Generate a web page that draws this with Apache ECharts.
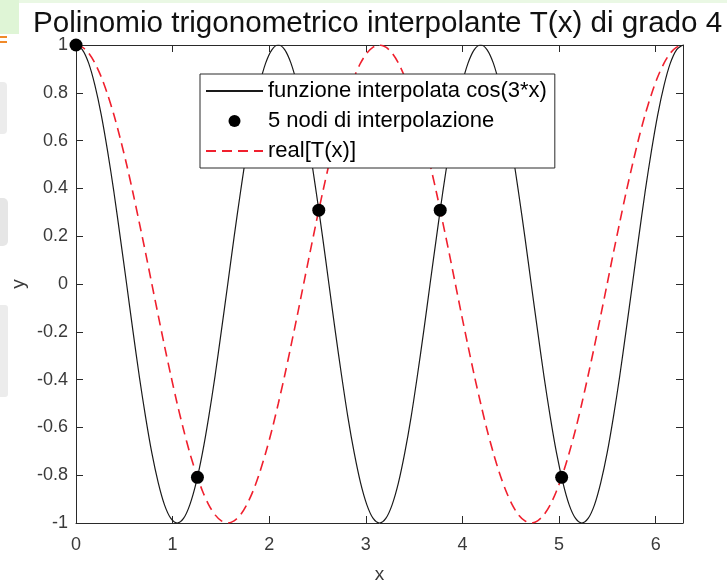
<!DOCTYPE html>
<html>
<head>
<meta charset="utf-8">
<script src="https://cdn.jsdelivr.net/npm/echarts@6/dist/echarts.min.js"></script>
<style>
  html, body { margin: 0; padding: 0; background: #fff; }
  #chart { width: 727px; height: 581px; }
</style>
</head>
<body>
<div id="chart"></div>
<script>
// Sample abscissae on [0, 2*pi], step pi/48
const xs = [0,0.065,0.131,0.196,0.262,0.327,0.393,0.458,0.524,0.589,0.654,0.720,0.785,0.851,0.916,0.982,
  1.047,1.113,1.178,1.244,1.309,1.374,1.440,1.505,1.571,1.636,1.702,1.767,1.833,1.898,1.963,2.029,
  2.094,2.160,2.225,2.291,2.356,2.422,2.487,2.553,2.618,2.683,2.749,2.814,2.880,2.945,3.011,3.076,
  3.142,3.207,3.272,3.338,3.403,3.469,3.534,3.600,3.665,3.731,3.796,3.862,3.927,3.992,4.058,4.123,
  4.189,4.254,4.320,4.385,4.451,4.516,4.581,4.647,4.712,4.778,4.843,4.909,4.974,5.040,5.105,5.171,
  5.236,5.301,5.367,5.432,5.498,5.563,5.629,5.694,5.760,5.825,5.890,5.956,6.021,6.087,6.152,6.218,6.283];

// Interpolated function cos(3*x) at the sample abscissae
const fVals = [
  1,0.981,0.924,0.831,0.707,0.556,0.383,0.195,0,-0.195,-0.383,-0.556,-0.707,-0.831,-0.924,-0.981,
  -1,-0.981,-0.924,-0.831,-0.707,-0.556,-0.383,-0.195,0,0.195,0.383,0.556,0.707,0.831,0.924,0.981,
  1,0.981,0.924,0.831,0.707,0.556,0.383,0.195,0,-0.195,-0.383,-0.556,-0.707,-0.831,-0.924,-0.981,
  -1,-0.981,-0.924,-0.831,-0.707,-0.556,-0.383,-0.195,0,0.195,0.383,0.556,0.707,0.831,0.924,0.981,
  1,0.981,0.924,0.831,0.707,0.556,0.383,0.195,0,-0.195,-0.383,-0.556,-0.707,-0.831,-0.924,-0.981,
  -1,-0.981,-0.924,-0.831,-0.707,-0.556,-0.383,-0.195,0,0.195,0.383,0.556,0.707,0.831,0.924,0.981,
  1];

// Real part of the trigonometric interpolant T(x)
const tVals = [
  1,0.991,0.966,0.924,0.866,0.793,0.707,0.609,0.5,0.383,0.259,0.131,0,-0.131,-0.259,-0.383,
  -0.5,-0.609,-0.707,-0.793,-0.866,-0.924,-0.966,-0.991,-1,-0.991,-0.966,-0.924,-0.866,-0.793,-0.707,-0.609,
  -0.5,-0.383,-0.259,-0.131,0,0.131,0.259,0.383,0.5,0.609,0.707,0.793,0.866,0.924,0.966,0.991,
  1,0.991,0.966,0.924,0.866,0.793,0.707,0.609,0.5,0.383,0.259,0.131,0,-0.131,-0.259,-0.383,
  -0.5,-0.609,-0.707,-0.793,-0.866,-0.924,-0.966,-0.991,-1,-0.991,-0.966,-0.924,-0.866,-0.793,-0.707,-0.609,
  -0.5,-0.383,-0.259,-0.131,0,0.131,0.259,0.383,0.5,0.609,0.707,0.793,0.866,0.924,0.966,0.991,
  1];

// Interpolation nodes
const nodeX = [0, 1.257, 2.513, 3.770, 5.027];
const nodeY = [1, -0.809, 0.309, 0.309, -0.809];

const xTicks = [0, 1, 2, 3, 4, 5, 6];
const xMax = 6.2832;

const names = ['funzione interpolata cos(3*x)', '5 nodi di interpolazione', 'real[T(x)]'];

const zip = (a, b) => a.map((v, i) => [v, b[i]]);

const axisColor = '#2a2a2a';
const labelColor = '#3a3a3a';
const font = 'Liberation Sans, Arial, sans-serif';

const chart = echarts.init(document.getElementById('chart'), null, { renderer: 'canvas' });

chart.setOption({
  animation: false,
  backgroundColor: '#fff',
  title: {
    text: 'Polinomio trigonometrico interpolante T(x) di grado 4',
    left: 33, top: 9, padding: 0,
    textStyle: { fontFamily: font, fontSize: 29.6, fontWeight: 'normal', color: '#111' }
  },
  // faint page decorations along the left edge
  graphic: [
    { type: 'rect', shape: { x: 0, y: 0, width: 727, height: 3 }, style: { fill: '#eaf8e4' }, silent: true },
    { type: 'rect', shape: { x: 0, y: 0, width: 19, height: 34 }, style: { fill: '#dff5d6' }, silent: true },
    { type: 'rect', shape: { x: 0, y: 36, width: 7, height: 2 }, style: { fill: '#f08a2a' }, silent: true },
    { type: 'rect', shape: { x: 0, y: 41, width: 7, height: 2 }, style: { fill: '#f08a2a' }, silent: true },
    { type: 'rect', shape: { x: 0, y: 82, width: 7, height: 52, r: [0, 4, 4, 0] }, style: { fill: '#ececec' }, silent: true },
    { type: 'rect', shape: { x: 0, y: 198, width: 8, height: 48, r: [0, 5, 5, 0] }, style: { fill: '#e6e6e6' }, silent: true },
    { type: 'rect', shape: { x: 0, y: 305, width: 8, height: 92, r: [0, 3, 3, 0] }, style: { fill: '#ececec' }, silent: true }
  ],
  legend: {
    orient: 'vertical',
    left: 200, top: 74,
    data: [
      { name: names[0], itemStyle: { opacity: 0 } },
      { name: names[1], icon: 'circle' },
      { name: names[2], itemStyle: { opacity: 0 } }
    ],
    itemWidth: 57, itemHeight: 12, itemGap: 8,
    padding: [6, 8, 6, 5],
    borderColor: axisColor, borderWidth: 1,
    backgroundColor: '#fff',
    textStyle: { fontFamily: font, fontSize: 22, color: '#000', lineHeight: 22 }
  },
  grid: { left: 76, right: 44, top: 45, bottom: 58, outerBoundsMode: 'none', containLabel: false },
  xAxis: [{
    type: 'value', min: 0, max: xMax, interval: 1,
    name: 'x', nameLocation: 'middle', nameGap: 42, nameMoveOverlap: false,
    nameTextStyle: { fontFamily: font, fontSize: 19, color: labelColor },
    axisLine: { onZero: false, lineStyle: { color: axisColor, width: 1 } },
    axisTick: { inside: true, length: 7, lineStyle: { color: axisColor } },
    axisLabel: {
      margin: 13, fontFamily: font, fontSize: 18, color: labelColor,
      formatter: v => (xTicks.indexOf(v) >= 0 ? String(v) : '')
    },
    splitLine: { show: false }
  }, {
    type: 'value', position: 'top', min: 0, max: xMax, interval: 1,
    axisLine: { onZero: false, lineStyle: { color: axisColor, width: 1 } },
    axisTick: { inside: true, length: 7, lineStyle: { color: axisColor } },
    axisLabel: { show: false }, splitLine: { show: false }
  }],
  yAxis: [{
    type: 'value', min: -1, max: 1, interval: 0.2,
    name: 'y', nameLocation: 'middle', nameGap: 48, nameRotate: 90, nameMoveOverlap: false,
    nameTextStyle: { fontFamily: font, fontSize: 19, color: labelColor },
    axisLine: { onZero: false, lineStyle: { color: axisColor, width: 1 } },
    axisTick: { inside: true, length: 7, lineStyle: { color: axisColor } },
    axisLabel: {
      margin: 8, fontFamily: font, fontSize: 18, color: labelColor,
      formatter: v => String(Math.round(v * 10) / 10)
    },
    splitLine: { show: false }
  }, {
    type: 'value', position: 'right', min: -1, max: 1, interval: 0.2,
    axisLine: { onZero: false, lineStyle: { color: axisColor, width: 1 } },
    axisTick: { inside: true, length: 7, lineStyle: { color: axisColor } },
    axisLabel: { show: false }, splitLine: { show: false }
  }],
  series: [{
    name: names[0], type: 'line', xAxisIndex: 0, yAxisIndex: 0,
    data: zip(xs, fVals), smooth: 0.3, symbol: 'none',
    lineStyle: { color: '#1a1a1a', width: 1.2 }, itemStyle: { color: '#1a1a1a' }
  }, {
    name: names[1], type: 'scatter', xAxisIndex: 0, yAxisIndex: 0,
    data: zip(nodeX, nodeY), symbol: 'circle', symbolSize: 13,
    itemStyle: { color: '#000', opacity: 1 }, z: 5
  }, {
    name: names[2], type: 'line', xAxisIndex: 0, yAxisIndex: 0,
    data: zip(xs, tVals), smooth: 0.3, symbol: 'none',
    lineStyle: { color: '#f0202e', width: 1.6, type: [10, 6] }, itemStyle: { color: '#f0202e' }, z: 3
  }]
});
</script>
</body>
</html>
